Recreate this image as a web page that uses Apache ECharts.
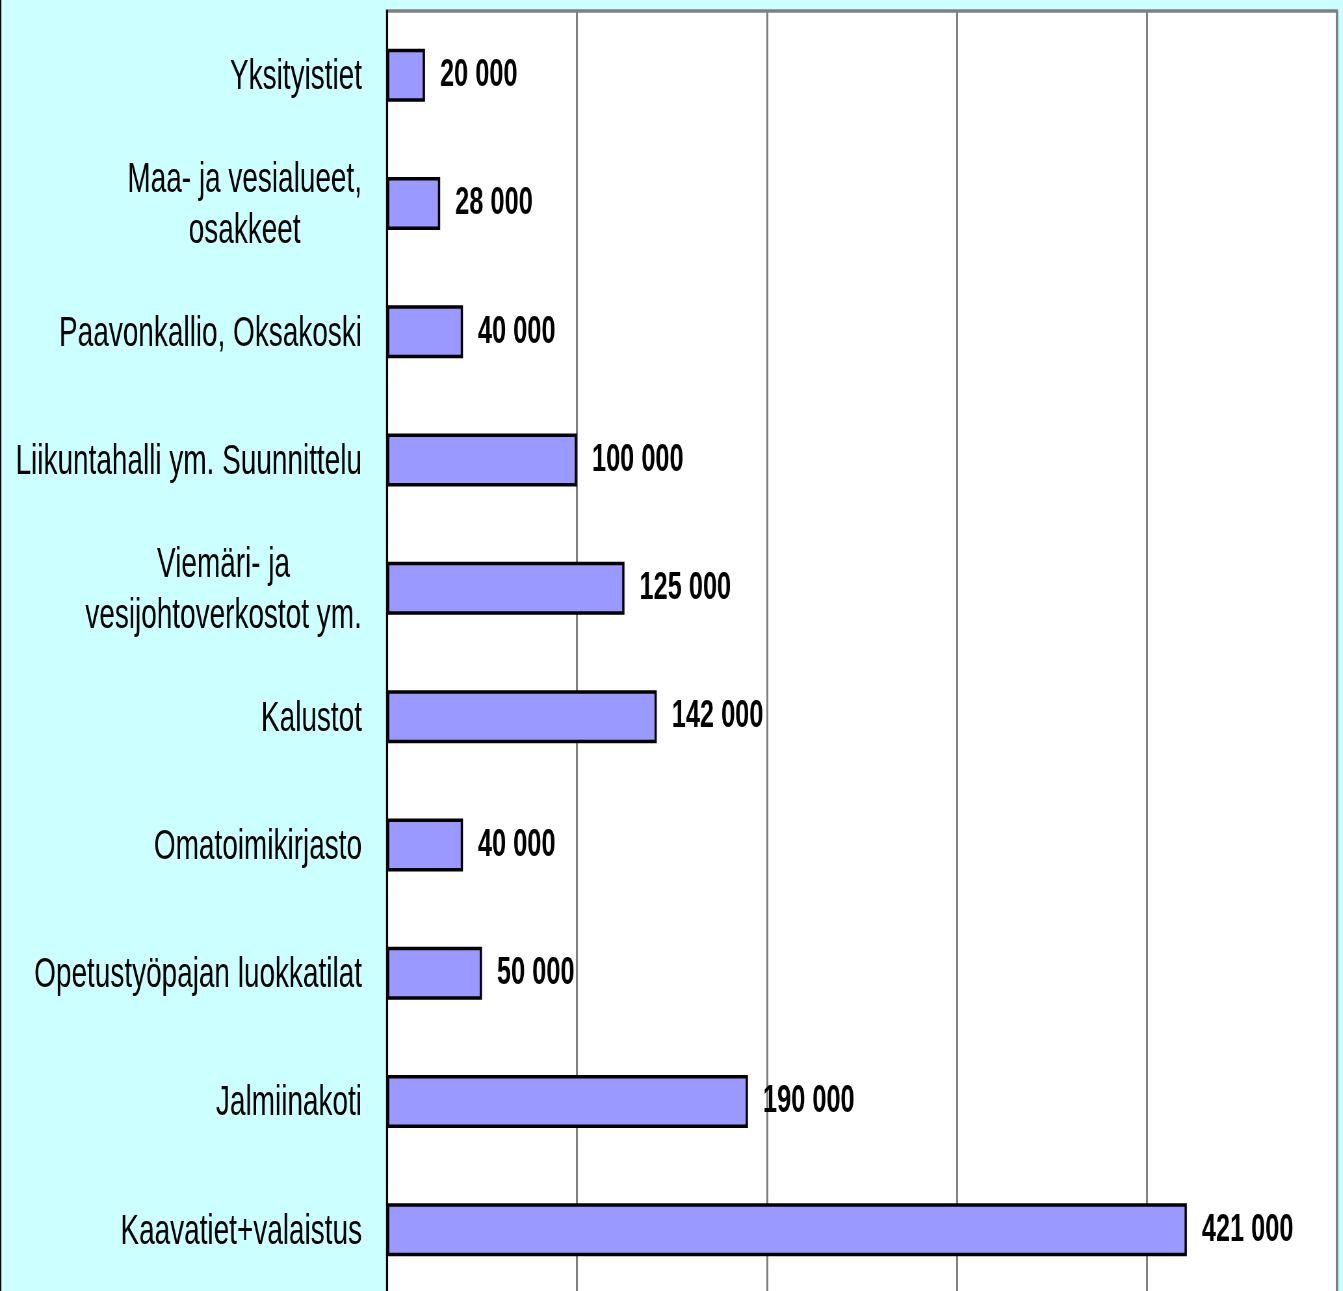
<!DOCTYPE html>
<html>
<head>
	<meta charset="utf-8">
	<title>Investoinnit</title>
	<script src="https://cdn.jsdelivr.net/npm/echarts@6/dist/echarts.min.js"></script>
	<style>
		html, body { margin: 0; padding: 0; background: #CCFFFF; overflow: hidden; }
		/* alkuperäinen kuva on kapeaksi puristettu: piirretään leveämpänä ja kavennetaan */
		#main { width: 2066px; height: 1291px; transform: scaleX(0.65); transform-origin: 0 0; }
	</style>
</head>
<body>
	<div id="main"></div>
	<script type="text/javascript">
		// kohteet ylhäältä alas
		var categories = [
			'Yksityistiet',
			'Maa- ja vesialueet,\nosakkeet',
			'Paavonkallio, Oksakoski',
			'Liikuntahalli ym. Suunnittelu',
			'Viemäri- ja\nvesijohtoverkostot ym.',
			'Kalustot',
			'Omatoimikirjasto',
			'Opetustyöpajan luokkatilat',
			'Jalmiinakoti',
			'Kaavatiet+valaistus'
		];
		// euroa
		var values = [20000, 28000, 40000, 100000, 125000, 142000, 40000, 50000, 190000, 421000];

		var axisMin = 0;
		var axisMax = 500000;
		var axisStep = 100000;

		var sx = 0.65; // vaakasuuntainen kavennus
		var fontName = '"Liberation Sans", Arial, sans-serif';
		var catSize = 43;

		//monirivinen nimi keskitetään, yksirivinen oikealle
		var measure = document.createElement('canvas').getContext('2d');
		measure.font = catSize + 'px ' + fontName;
		var rich = {};
		var catLabels = categories.map(function (c, i) {
			if (c.indexOf('\n') < 0) return c;
			var lines = c.split('\n');
			var w = 0;
			lines.forEach(function (l) { w = Math.max(w, measure.measureText(l).width); });
			rich['c' + i] = { width: Math.ceil(w), align: 'center', fontSize: catSize, fontFamily: fontName, color: '#000', lineHeight: 51 };
			return lines.map(function (l) { return '{c' + i + '|' + l + '}'; }).join('\n');
		});

		function fmt(v) {
			return String(v).replace(/\B(?=(\d{3})+(?!\d))/g, ' ');
		}

		var chart = echarts.init(document.getElementById('main'));
		var option = {
			backgroundColor: '#CCFFFF',
			animation: false,
			grid: {
				left: 387 / sx,
				right: 6 / sx,
				top: 11,
				bottom: -3,
				outerBoundsMode: 'none',
				show: true,
				backgroundColor: '#fff',
				borderColor: '#808080',
				borderWidth: 3.5
			},
			xAxis: {
				type: 'value',
				min: axisMin,
				max: axisMax,
				interval: axisStep,
				axisLabel: { show: false },
				axisTick: { show: false },
				axisLine: { show: false },
				splitLine: { lineStyle: { color: '#808080', width: 3 } }
			},
			yAxis: {
				type: 'category',
				inverse: true,
				data: catLabels,
				axisTick: { show: false },
				axisLine: { lineStyle: { color: '#000', width: 3 } },
				axisLabel: {
					margin: 25 / sx,
					color: '#000',
					fontSize: catSize,
					fontFamily: fontName,
					lineHeight: 51,
					padding: [4, 0, 0, 0],
					rich: rich
				}
			},
			series: [{
				type: 'bar',
				data: values,
				barWidth: 53,
				itemStyle: {
					color: '#9999FF',
					borderColor: '#000',
					borderWidth: 3.5
				},
				label: {
					show: true,
					position: 'right',
					distance: 15 / sx,
					color: '#000',
					fontWeight: 'bold',
					fontSize: 39,
					fontFamily: fontName,
					padding: [3, 0, 0, 0],
					formatter: function (p) { return fmt(p.value); }
				}
			}],
			graphic: [{
				type: 'line',
				shape: { x1: 1, y1: 0, x2: 1, y2: 1291 },
				style: { stroke: '#000', lineWidth: 2 }
			}]
		};
		chart.setOption(option);
	</script>
</body>
</html>
